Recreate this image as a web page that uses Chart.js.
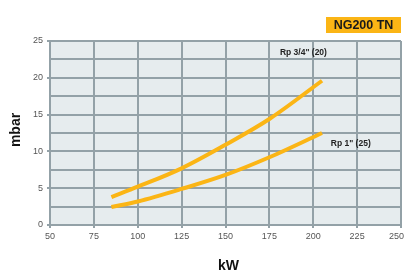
<!DOCTYPE html>
<html>
<head>
<meta charset="utf-8">
<script src="https://cdn.jsdelivr.net/npm/chart.js@4"></script>
<style>
  html, body { margin: 0; padding: 0; background: #fff; }
  #wrap { width: 404px; height: 273px; position: relative; }
</style>
</head>
<body>
<div id="wrap"><canvas id="c"></canvas></div>
<script>
// pressure drop curves, kW vs mbar
const kw = [85, 100, 125, 150, 175, 205];
const rp34 = [3.8, 5.2, 7.7, 10.9, 14.4, 19.6];
const rp1 = [2.45, 3.2, 4.9, 6.8, 9.2, 12.5];
const seriesNames = ['Rp 3/4" (20)', 'Rp 1" (25)'];
const labelAt = [[181, 23.4], [210, 11.1]]; // data coords for curve labels
const modelName = "NG200 TN";
const xTitle = "kW";
const yTitle = "mbar";

const ORANGE = "#fbb515";
const GRID = "#93a1a7";
const FONT = "'Liberation Sans', Arial, sans-serif";

const pts = (ys) => kw.map((x, i) => ({ x, y: ys[i] }));

const decor = {
  id: "decor",
  beforeDraw(chart) {
    const { ctx, chartArea: a } = chart;
    ctx.save();
    ctx.fillStyle = "#e6ecee";
    ctx.fillRect(a.left, a.top, a.right - a.left, a.bottom - a.top);
    ctx.restore();
  },
  afterDraw(chart) {
    const { ctx, scales, chartArea: a } = chart;
    ctx.save();
    // curve labels
    ctx.fillStyle = "#222";
    ctx.font = "bold 8.5px " + FONT;
    ctx.textBaseline = "middle";
    ctx.textAlign = "left";
    seriesNames.forEach((n, i) => {
      ctx.fillText(n, scales.x.getPixelForValue(labelAt[i][0]), scales.y.getPixelForValue(labelAt[i][1]));
    });
    // axis titles
    ctx.fillStyle = "#111";
    ctx.font = "bold 14px " + FONT;
    ctx.textAlign = "center";
    ctx.fillText(xTitle, (a.left + a.right) / 2 + 3, 266);
    ctx.translate(16, (a.top + a.bottom) / 2 - 3);
    ctx.rotate(-Math.PI / 2);
    ctx.fillText(yTitle, 0, 0);
    ctx.setTransform(1, 0, 0, 1, 0, 0);
    // model badge
    ctx.fillStyle = ORANGE;
    ctx.fillRect(326, 17, 75, 16);
    ctx.fillStyle = "#1a1a1a";
    ctx.font = "900 12.5px " + FONT;
    ctx.fillText(modelName, 363.5, 25.5);
    ctx.restore();
  }
};

new Chart(document.getElementById("c"), {
  type: "line",
  data: {
    datasets: [
      { label: seriesNames[0], data: pts(rp34) },
      { label: seriesNames[1], data: pts(rp1) }
    ]
  },
  options: {
    responsive: true,
    maintainAspectRatio: false,
    animation: false,
    layout: { padding: { top: 41, right: 3, left: 0, bottom: 0 } },
    elements: {
      line: { borderColor: ORANGE, borderWidth: 4, tension: 0.4, cubicInterpolationMode: "monotone", borderCapStyle: "butt" },
      point: { radius: 0 }
    },
    plugins: { legend: { display: false }, tooltip: { enabled: false } },
    scales: {
      x: {
        type: "linear",
        min: 50, max: 250,
        afterFit: (s) => { s.height = 48; s.paddingLeft = 0; s.paddingRight = 0; },
        ticks: {
          stepSize: 25, color: "#555", font: { family: FONT, size: 9 }, padding: 3,
          // last label sits at the canvas edge; pad it so it stays visible
          callback: (v) => (v === 250 ? v + "\u2002\u2002" : v)
        },
        grid: { color: GRID, lineWidth: 2, tickLength: 3, tickColor: GRID },
        border: { color: GRID, width: 2 }
      },
      y: {
        min: 0, max: 25,
        afterFit: (s) => { s.width = 50; s.paddingTop = 0; s.paddingBottom = 0; },
        ticks: {
          stepSize: 2.5,
          color: "#555",
          font: { family: FONT, size: 9 },
          padding: 4,
          callback: (v) => (v % 5 === 0 ? v : "")
        },
        grid: {
          color: GRID, lineWidth: 2, tickLength: 3,
          tickColor: (c) => (c.tick && c.tick.value % 5 === 0 ? GRID : "rgba(0,0,0,0)")
        },
        border: { color: GRID, width: 2 }
      }
    }
  },
  plugins: [decor]
});
</script>
</body>
</html>
